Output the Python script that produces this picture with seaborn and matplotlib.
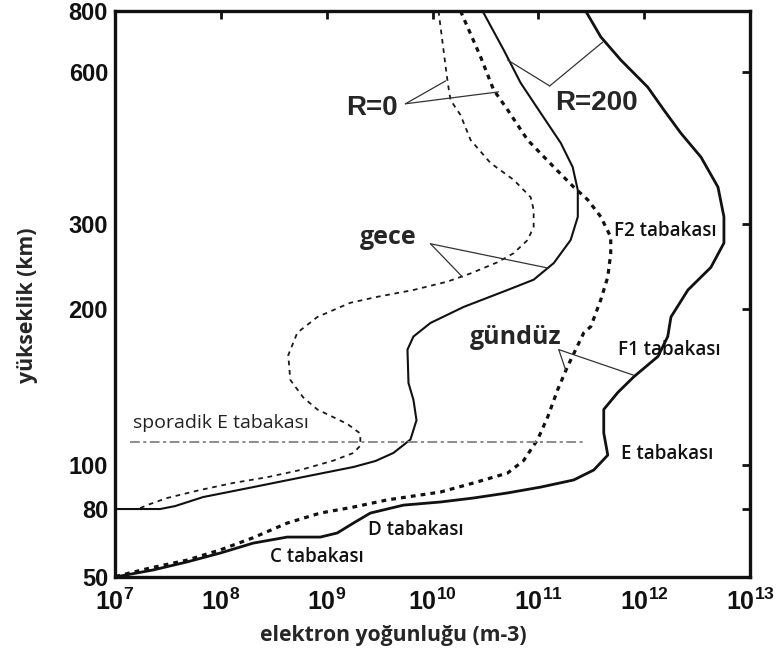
import numpy as np
import pandas as pd
import matplotlib
matplotlib.use("Agg")
import matplotlib.pyplot as plt
import seaborn as sns

# ---------------- data ----------------
# night, R=0 (thin dashed)
night_r0_n = [1.14e10, 1.27e10, 1.39e10, 1.48e10, 1.84e10, 2.29e10, 3.54e10, 5.84e10, 8.46e10,
              9.03e10, 9.03e10, 7.93e10, 5.84e10, 4.12e10, 2.29e10, 1.39e10, 6.61e9, 3.02e9,
              1.67e9, 8.16e8, 5.28e8, 4.34e8, 4.53e8, 6.01e8, 8.16e8, 1.57e9, 2.08e9, 2.08e9,
              1.79e9, 1.16e9, 5.63e8, 2.74e8, 1.31e8, 6.37e7, 3.11e7, 2.01e7, 1.65e7]
night_r0_h = [800, 666, 573, 528, 493, 440, 396, 367, 339,
              320, 296, 278, 261, 250, 237, 228, 219, 212,
              206, 193, 180, 163, 146, 135, 128, 120, 115, 109,
              105.5, 102, 97.5, 94, 91.3, 88.1, 84.6, 81.6, 80]

# night, R=200 (thin solid)
night_r200_n = [2.97e10, 4.70e10, 6.80e10, 1.05e11, 1.63e11, 2.11e11, 2.36e11, 2.36e11, 2.02e11,
                1.40e11, 9.03e10, 5.12e10, 1.97e10, 9.57e9, 6.61e9, 5.80e9, 5.93e9, 6.61e9,
                7.06e9, 6.19e9, 4.27e9, 2.89e9, 1.79e9, 6.01e8, 2.02e8, 6.80e7, 3.70e7, 2.67e7, 1.0e7]
night_r200_h = [800, 666, 571, 498, 434, 389, 350, 310, 278,
                249, 230, 219, 202, 188, 177, 167, 144, 133.5,
                122, 112, 105.5, 101.8, 99, 94.1, 89.4, 85, 81.2, 80, 80]

# day, R=0 (thick dashed)
day_r0_n = [1.84e10, 2.85e10, 3.78e10, 5.12e10, 7.92e10, 1.40e11, 2.16e11, 2.93e11, 3.89e11,
            4.83e11, 4.83e11, 4.53e11, 3.89e11, 3.13e11, 2.69e11, 1.89e11, 1.52e11, 1.23e11,
            9.85e10, 7.26e10, 5.12e10, 2.44e10, 1.19e10, 7.70e9, 3.75e9, 1.79e9, 8.71e8,
            4.24e8, 2.02e8, 9.86e7, 4.80e7, 2.14e7, 1.04e7]
day_r0_h = [800, 644, 553, 505, 440, 389, 355, 335, 310,
            282, 261, 233, 209, 185, 180, 155, 139.6, 124,
            112, 102, 96, 91.3, 87.2, 85.9, 83.8, 80.8, 77.8,
            72.6, 65.6, 60.3, 56.2, 53.2, 50.3]

# day, R=200 (thick solid)
day_r200_n = [2.80e11, 3.89e11, 6.01e11, 1.08e12, 1.53e12, 2.22e12, 3.44e12, 4.98e12, 5.67e12,
              5.67e12, 4.27e12, 2.59e12, 1.79e12, 1.67e12, 1.35e12, 7.98e11, 5.63e11, 4.15e11,
              4.15e11, 4.53e11, 3.34e11, 2.16e11, 1.05e11, 5.12e10, 2.44e10, 1.19e10, 5.32e9,
              2.59e9, 1.79e9, 1.26e9, 8.71e8, 4.24e8, 2.02e8, 9.86e7, 4.80e7, 2.29e7, 1.0e7]
day_r200_h = [800, 708, 635, 560, 505, 454, 407, 355, 310,
              274, 244, 219, 193, 177, 162, 148, 138, 128,
              115.3, 104.5, 97.5, 92.7, 89.4, 86.8, 84.6, 82.9, 81.6,
              77.8, 72.6, 67.8, 65.9, 65.9, 63.2, 59.0, 55.5, 52.5, 50]

# sporadic E layer
sporadic_n = [1.39e7, 2.63e11]
sporadic_h = [111, 111]

x_ticks = [1e7, 1e8, 1e9, 1e10, 1e11, 1e12, 1e13]
x_tick_labels = [r"$\mathbf{10^{7}}$", r"$\mathbf{10^{8}}$", r"$\mathbf{10^{9}}$", r"$\mathbf{10^{10}}$",
                 r"$\mathbf{10^{11}}$", r"$\mathbf{10^{12}}$", r"$\mathbf{10^{13}}$"]
y_ticks = [50, 80, 100, 200, 300, 600, 800]
y_tick_labels = ["50", "80", "100", "200", "300", "600", "800"]

# ---------------- style ----------------
sns.set_style("white")
plt.rcParams["font.family"] = ["Liberation Sans", "DejaVu Sans"]
plt.rcParams["mathtext.fontset"] = "custom"
plt.rcParams["mathtext.rm"] = "Liberation Sans:bold"
plt.rcParams["mathtext.bf"] = "Liberation Sans:bold"
plt.rcParams["mathtext.it"] = "Liberation Sans:bold"

fig = plt.figure(figsize=(7.79, 6.54), dpi=100)
ax = fig.add_axes([0.1476, 0.1177, 0.8152, 0.8655])

# non-uniform (piecewise logarithmic) height axis as in the original figure
_tick_log = np.log10(np.array(y_ticks, dtype=float))
_tick_pos = np.array([0, 68, 112, 268, 353, 505, 566]) / 566.0


def _fwd(y):
    y = np.asarray(y, dtype=float)
    return np.interp(np.log10(np.clip(y, 1e-6, None)), _tick_log, _tick_pos)


def _inv(p):
    p = np.asarray(p, dtype=float)
    return 10 ** np.interp(p, _tick_pos, _tick_log)


ax.set_xscale("log")
ax.set_yscale("function", functions=(_fwd, _inv))

curves = [
    (night_r0_n, night_r0_h, dict(color="#1a1a1a", lw=1.3, ls=(0, (2.6, 2.6)))),
    (night_r200_n, night_r200_h, dict(color="#111111", lw=1.5, ls="-")),
    (day_r0_n, day_r0_h, dict(color="#111111", lw=2.3, ls=(0, (1.5, 1.6)))),
    (day_r200_n, day_r200_h, dict(color="#111111", lw=2.0, ls="-")),
]
for xs, ys, st in curves:
    df = pd.DataFrame({"n": xs, "h": ys})
    sns.lineplot(data=df, x="n", y="h", sort=False, estimator=None, ax=ax,
                 color=st["color"], linewidth=st["lw"], linestyle=st["ls"],
                 solid_joinstyle="round", dash_joinstyle="round")

df_sp = pd.DataFrame({"n": sporadic_n, "h": sporadic_h})
sns.lineplot(data=df_sp, x="n", y="h", sort=False, estimator=None, ax=ax,
             color="#8c8c8c", linewidth=1.4, linestyle=(0, (5, 1.8, 1.6, 1.8)))

ax.set_xlim(1e7, 1e13)
ax.set_ylim(50, 800)
ax.set_xticks(x_ticks, x_tick_labels)
ax.set_yticks(y_ticks, y_tick_labels)
ax.xaxis.set_minor_locator(matplotlib.ticker.NullLocator())
ax.yaxis.set_minor_locator(matplotlib.ticker.NullLocator())
ax.tick_params(axis="both", which="major", direction="in", length=6, width=2,
               top=True, right=True, colors="#111111")
ax.tick_params(axis="y", labelsize=17, pad=5)
ax.tick_params(axis="x", labelsize=18, pad=8)
for lab in ax.get_yticklabels():
    lab.set_fontweight("bold")
for sp in ax.spines.values():
    sp.set_linewidth(2.4)
    sp.set_color("#111111")

label_font = ["Open Sans", "DejaVu Sans"]
ax.set_xlabel("elektron yoğunluğu (m-3)", fontsize=15.2, fontweight="bold",
              family=label_font, va="center", ha="center")
ax.xaxis.set_label_coords(0.438, -0.1025)
ax.set_ylabel("yükseklik (km)", fontsize=15.3, fontweight="bold",
              family=label_font, va="center", ha="center")
ax.yaxis.set_label_coords(-0.137, 0.4806)

# ---------------- annotations ----------------
lead = dict(arrowstyle="-", color="#333333", lw=0.9, shrinkA=0, shrinkB=0)

ax.text(2.65e9, 509, "R=0", fontsize=20, fontweight="bold", ha="center", va="center")
ax.annotate("", xy=(1.33e10, 576), xytext=(5.55e9, 519), arrowprops=lead)
ax.annotate("", xy=(4.21e10, 548), xytext=(5.55e9, 519), arrowprops=lead)

ax.text(3.56e11, 521, "R=200", fontsize=20, fontweight="bold", ha="center", va="center")
ax.annotate("", xy=(5.12e10, 635), xytext=(1.28e11, 563), arrowprops=lead)
ax.annotate("", xy=(4.06e11, 691), xytext=(1.28e11, 563), arrowprops=lead)

ax.text(3.83e9, 281, "gece", fontsize=18, fontweight="bold", family=label_font,
        ha="center", va="center")
ax.annotate("", xy=(1.92e10, 233), xytext=(9.57e9, 273), arrowprops=lead)
ax.annotate("", xy=(1.25e11, 243), xytext=(9.57e9, 273), arrowprops=lead)

ax.text(6.10e10, 176, "gündüz", fontsize=18, fontweight="bold", family=label_font,
        ha="center", va="center")
ax.annotate("", xy=(7.98e11, 149), xytext=(1.56e11, 167), arrowprops=lead)
ax.annotate("", xy=(1.81e11, 152.5), xytext=(1.56e11, 167), arrowprops=lead)

layer_kw = dict(fontsize=13.5, fontweight="semibold", family=label_font, va="center",
                ha="left", color="#111111")
ax.text(5.16e11, 290, "F2 tabakası", **layer_kw)
ax.text(5.63e11, 167, "F1 tabakası", **layer_kw)
ax.text(6.01e11, 105, "E tabakası", **layer_kw)
ax.text(2.48e9, 69.2, "D tabakası", **layer_kw)
ax.text(2.93e8, 57.4, "C tabakası", **layer_kw)
ax.text(1.48e7, 120.5, "sporadik E tabakası", fontsize=14, family=label_font,
        va="center", ha="left", color="#222222")

fig.savefig("out.png", dpi=100)
